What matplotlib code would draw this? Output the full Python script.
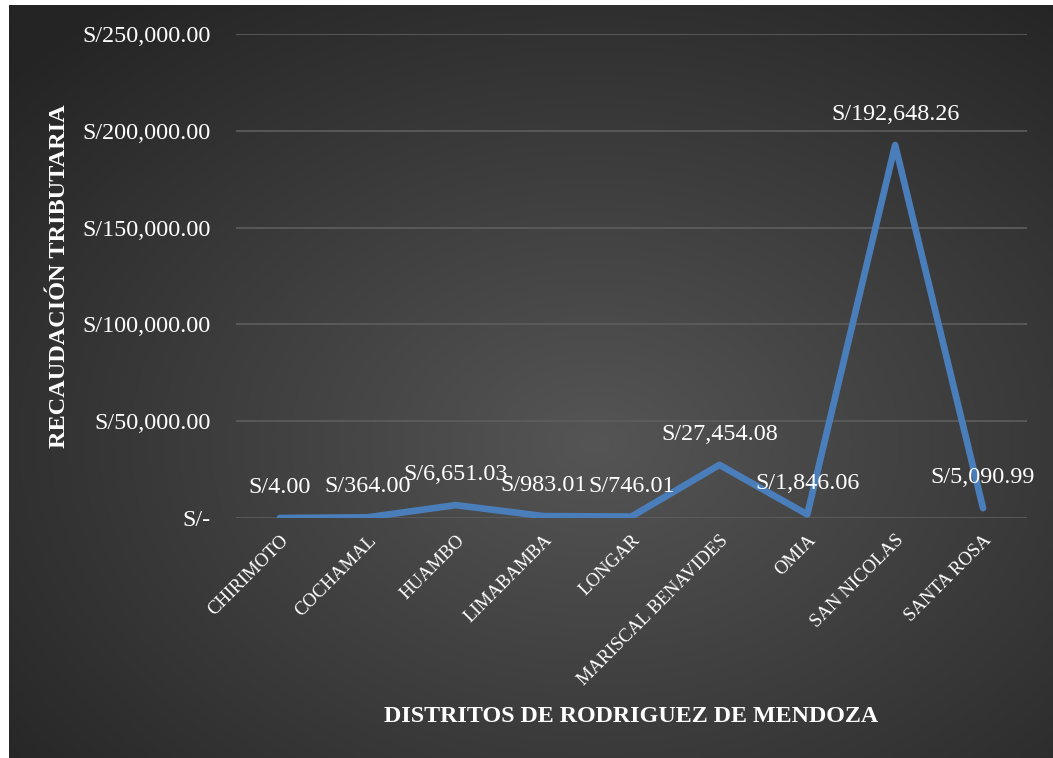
import numpy as np
import matplotlib.pyplot as plt

# datos
distritos = ['CHIRIMOTO', 'COCHAMAL', 'HUAMBO', 'LIMABAMBA', 'LONGAR',
             'MARISCAL BENAVIDES', 'OMIA', 'SAN NICOLAS', 'SANTA ROSA']
recaudacion = [4.00, 364.00, 6651.03, 983.01, 746.01,
               27454.08, 1846.06, 192648.26, 5090.99]
y_ticks = [0, 50000, 100000, 150000, 200000, 250000]

plt.rcParams['font.family'] = ['Liberation Serif', 'DejaVu Serif']

fig = plt.figure(figsize=(10.53, 7.58), dpi=100)
fig.patch.set_facecolor('white')

# fondo oscuro con degradado radial
bg = fig.add_axes([9 / 1053, 0, 1 - 9 / 1053, 1 - 5 / 758])
bg.set_axis_off()
h, w = 300, 420
yy, xx = np.mgrid[0:h, 0:w]
cx, cy = 0.56 * w, 0.58 * h
r = np.sqrt(((xx - cx) / w) ** 2 + ((yy - cy) / h) ** 2) / 0.75
r = np.clip(r, 0, 1)
light, dark = 0x55 / 255, 0x24 / 255
val = light + (dark - light) * r
img = np.dstack([val, val, val])
bg.imshow(img, aspect='auto', extent=[0, 1, 0, 1], interpolation='bilinear')
bg.set_xlim(0, 1)
bg.set_ylim(0, 1)

ax = fig.add_axes([236 / 1053, 1 - 518 / 758, 791 / 1053, 484 / 758])
ax.set_facecolor('none')

x = np.arange(len(distritos))
ax.plot(x, recaudacion, color='#4a7ebb', linewidth=4.8,
        solid_capstyle='round', solid_joinstyle='round', zorder=3)

for xi, v in zip(x, recaudacion):
    ax.annotate(f'S/{v:,.2f}', (xi, v), xytext=(0, 22), textcoords='offset points',
                ha='center', va='center', color='white', fontsize=17.4, zorder=4)

ax.set_xlim(-0.5, len(distritos) - 0.5)
ax.set_ylim(0, 250000)
ax.set_yticks(y_ticks)
ax.set_yticklabels(['S/-'] + [f'S/{t:,.2f}' for t in y_ticks[1:]])
ax.set_xticks(x)
ax.set_xticklabels(distritos, rotation=45, ha='right', rotation_mode='anchor')

ax.grid(axis='y', color='#5e5e5e', linewidth=1.2)
ax.set_axisbelow(True)
for s in ax.spines.values():
    s.set_visible(False)
ax.tick_params(axis='both', length=0, colors='white')
ax.tick_params(axis='y', labelsize=17.4, pad=18)
ax.tick_params(axis='x', labelsize=13.5, pad=10)

ax.set_xlabel('DISTRITOS DE RODRIGUEZ DE MENDOZA', fontsize=17.3, fontweight='bold',
              color='white')
ax.set_ylabel('RECAUDACIÓN TRIBUTARIA', fontsize=17.5, fontweight='bold',
              color='white')
ax.xaxis.set_label_coords(0.5, -0.388)
ax.yaxis.set_label_coords(-0.21, 0.5)

plt.savefig('out.png', dpi=100, facecolor=fig.get_facecolor())
